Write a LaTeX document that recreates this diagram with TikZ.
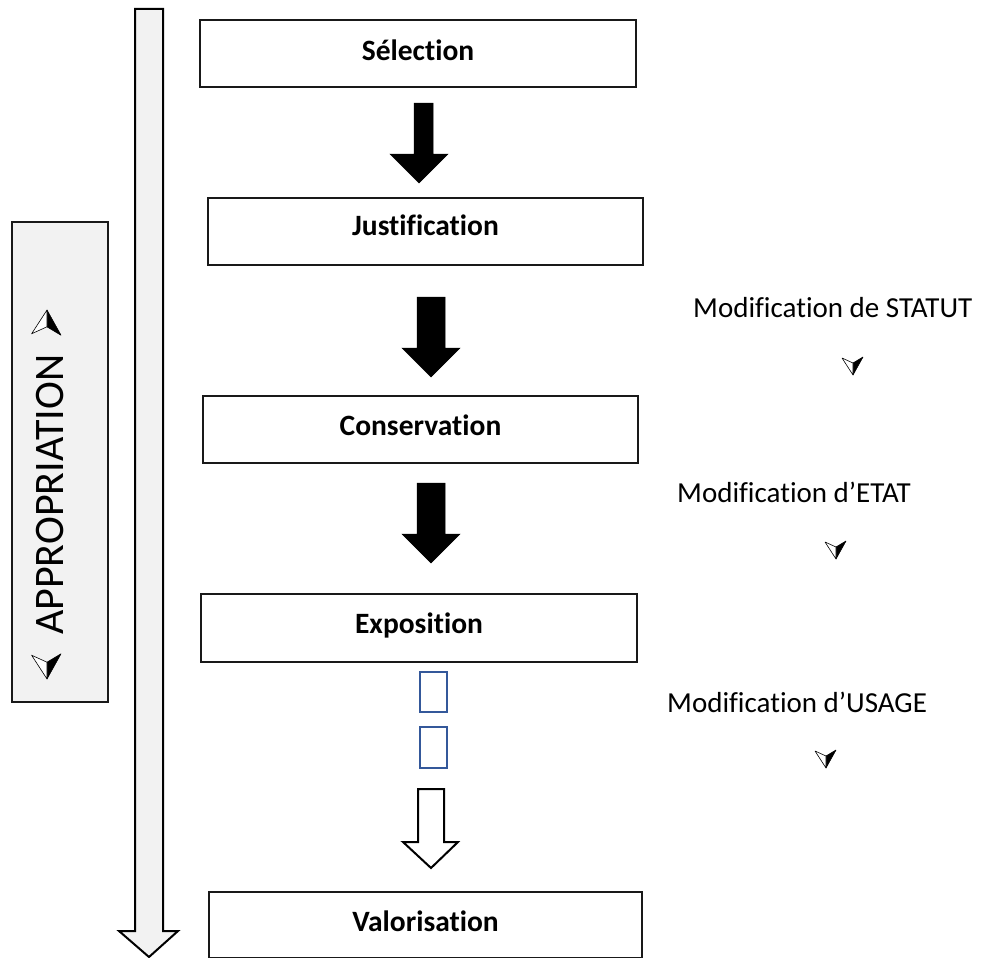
\documentclass[tikz,border=0pt]{standalone}
\usepackage{fontspec}
\setmainfont[Ligatures={NoCommon,NoRare,NoContextual}]{Carlito}
\definecolor{panel}{HTML}{F2F2F2}
\definecolor{tofu}{HTML}{34589A}
\tikzset{
  stagebox/.style={draw=black!90, line width=2pt, fill=white, inner sep=0pt, outer sep=0pt},
  stagetext/.style={anchor=base, inner sep=0pt, font=\fontsize{29.5}{34}\selectfont\bfseries},
  modtext/.style={anchor=base west, inner sep=0pt, font=\fontsize{29}{34}\selectfont},
  solidarrow/.style={fill=black, draw=black, line width=0.5pt},
  hollowarrow/.style={fill=white, draw=black, line width=2pt, line join=miter},
  bigarrow/.style={fill=panel, draw=black, line width=2pt, line join=miter},
  tofubox/.style={draw=tofu, line width=2pt, fill=white},
  pics/glyph/.style={code={
    \fill[black] (0,-2) -- (10,-8) -- (0,10) -- cycle;
    \draw[black, line width=0.6pt, fill=white, line join=round] (-11,-7) -- (0,-2) -- (0,10) -- cycle;
    \draw[black, line width=0.6pt, line join=round] (0,-2) -- (10,-8) -- (0,10);
  }}
}
\begin{document}
\begin{tikzpicture}[x=1pt, y=-1pt]
\useasboundingbox[fill=white] (0,0) rectangle (983,958);

% big vertical arrow
\draw[bigarrow] (135,9) -- (163,9) -- (163,931) -- (178,931) -- (149,957) -- (119,931) -- (135,931) -- cycle;

% appropriation panel
\node[draw=black!90, line width=2pt, fill=panel, minimum width=96pt, minimum height=480pt, inner sep=0pt] (appbox) at (60,462) {};
\node[anchor=base west, rotate=90, inner sep=0pt, font=\fontsize{42}{48}\selectfont] (apptext) at (63,635) {APPROPRIATION};
\pic[scale=1.4, yscale=-1] at (47,324) {glyph};
\pic[scale=1.4] at (47,665) {glyph};

% stage boxes
\node[stagebox, minimum width=436pt, minimum height=67pt] (sel) at (418,53.5) {};
\node[stagetext] (selt) at (418,60) {Sélection};
\node[stagebox, minimum width=435pt, minimum height=67pt] (jus) at (425.5,231.5) {};
\node[stagetext] (just) at (425.5,235) {Justification};
\node[stagebox, minimum width=435pt, minimum height=67pt] (con) at (420.5,429.5) {};
\node[stagetext] (cont) at (420.5,435) {Conservation};
\node[stagebox, minimum width=436pt, minimum height=68pt] (exp) at (419,628) {};
\node[stagetext] (expt) at (419,633) {Exposition};
\node[stagebox, minimum width=433pt, minimum height=66pt] (val) at (425.5,925) {};
\node[stagetext] (valt) at (425.5,931) {Valorisation};

% solid arrows
\fill[solidarrow] (414,103) -- (433,103) -- (433,154) -- (448,154) -- (419,183) -- (390,154) -- (414,154) -- cycle;
\fill[solidarrow] (417,297) -- (445,297) -- (445,348) -- (460,348) -- (431,377) -- (402,348) -- (417,348) -- cycle;
\fill[solidarrow] (417,483) -- (445,483) -- (445,534) -- (460,534) -- (431,563) -- (402,534) -- (417,534) -- cycle;

% tofu boxes
\draw[tofubox] (420,672) rectangle (447,712);
\draw[tofubox] (420,727) rectangle (447,768);

% hollow arrow
\draw[hollowarrow] (418,789) -- (444,789) -- (444,842) -- (458,842) -- (431,868) -- (403,842) -- (418,842) -- cycle;

% modification labels
\node[modtext] (statut) at (693,317) {Modification de STATUT};
\pic at (853,365) {glyph};
\node[modtext] (etat) at (677,502) {Modification d’ETAT};
\pic at (836,549) {glyph};
\node[modtext] (usage) at (667,712) {Modification d’USAGE};
\pic at (826,758) {glyph};
\end{tikzpicture}
\end{document}
